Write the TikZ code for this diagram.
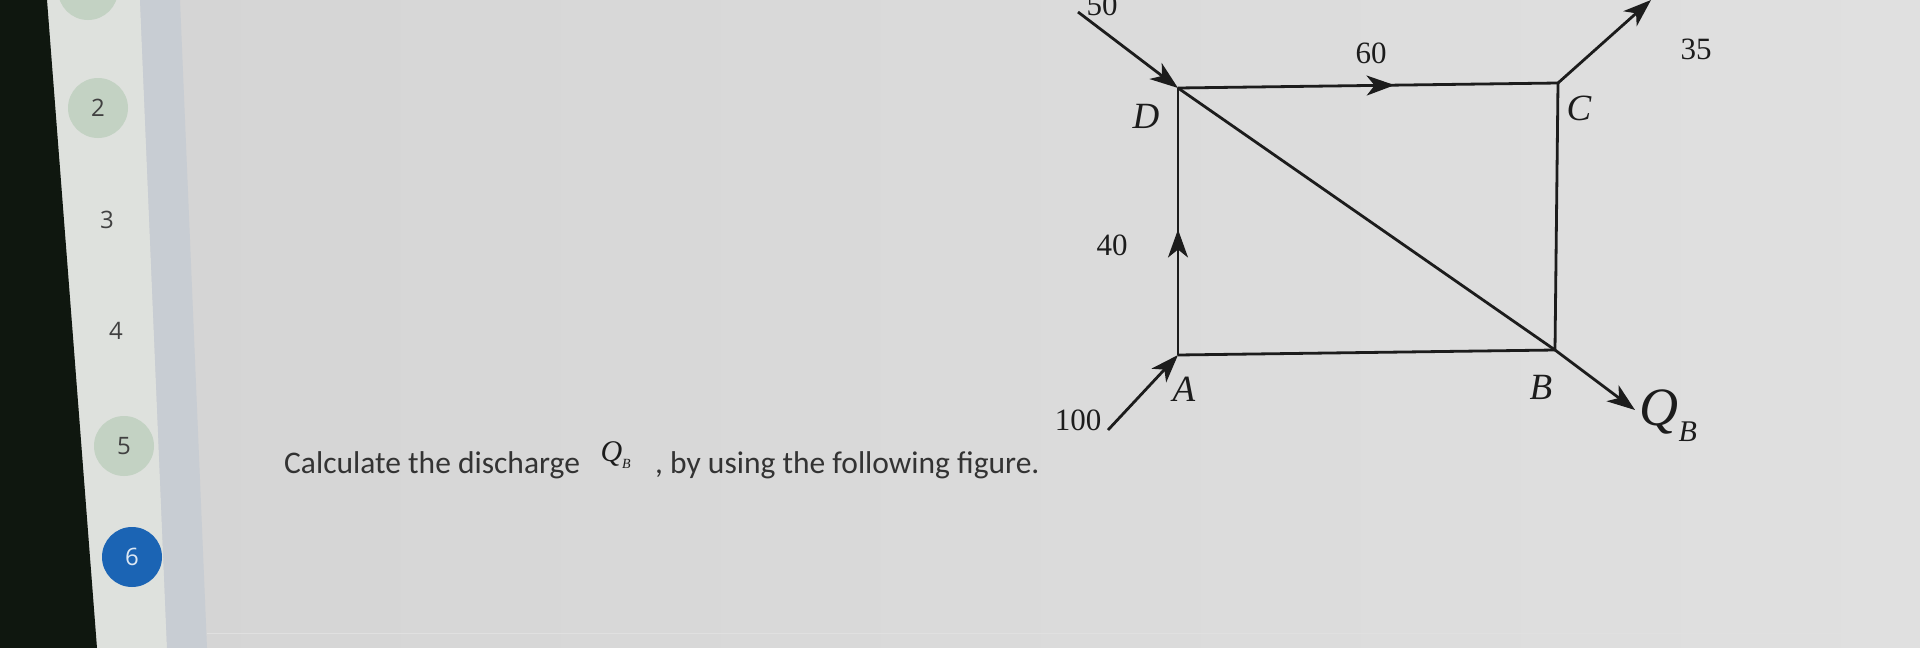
\documentclass[tikz,border=0pt]{standalone}
\usepackage{fontspec}
\setmainfont{Liberation Serif}
\newfontfamily\uifont{Carlito}
\newfontfamily\navfont{Open Sans}
\usetikzlibrary{arrows.meta,decorations.markings}
\definecolor{screen}{HTML}{D4D4D4}
\definecolor{screenlight}{HTML}{E0E0E0}
\definecolor{bezel}{HTML}{0F170F}
\definecolor{sidebar}{HTML}{DEE1DD}
\definecolor{band}{HTML}{C8CDD3}
\definecolor{navgreen}{HTML}{C3D2C3}
\definecolor{navblue}{HTML}{1B64B4}
\definecolor{ink}{HTML}{1C1C1C}
\tikzset{
  flow/.style={line width=2.8pt, draw=ink},
  tip/.style={-{Stealth[length=28pt,width=20pt,inset=8pt]}},
  midtip/.style={postaction={decorate},
    decoration={markings, mark=at position #1 with {\arrow{Stealth[length=28pt,width=20pt,inset=8pt]}}}},
  qty/.style={text=ink, font=\fontsize{31}{31}\selectfont},
  corner/.style={text=ink, font=\fontsize{37}{37}\selectfont\itshape},
  navnum/.style={circle, minimum size=60pt, inner sep=0pt, text=black!75,
    font=\navfont\fontsize{24}{24}\selectfont},
  prompt/.style={text=black!80, inner sep=0pt, font=\uifont\fontsize{31.5}{31.5}\selectfont},
}
\begin{document}
\begin{tikzpicture}[x=1pt,y=-1pt]
  \useasboundingbox (0,0) rectangle (1920,648);
  % screen background
  \shade[left color=screen, right color=screenlight] (0,0) rectangle (1920,648);
  \fill[sidebar] (47,0) -- (140,0) -- (167,648) -- (97,648) -- cycle;
  \fill[band] (140,0) -- (180,0) -- (207,648) -- (167,648) -- cycle;
  \fill[bezel] (0,0) -- (47,0) -- (97,648) -- (0,648) -- cycle;
  \draw[black!12, line width=1pt] (207,633) -- (1920,633);

  % question numbers
  \node[navnum, fill=navgreen] (n1) at (88,-10) {};
  \node[navnum, fill=navgreen] (n2) at (98,108) {2};
  \node[navnum] (n3) at (107,220) {3};
  \node[navnum] (n4) at (116,331) {4};
  \node[navnum, fill=navgreen] (n5) at (124,446) {5};
  \node[navnum, fill=navblue, text=white!85!navblue] (n6) at (132,557) {6};

  % question text
  \node[prompt, anchor=base west] (ask) at (284,473) {Calculate the discharge};
  \node[text=ink, anchor=base west, font=\fontsize{30}{30}\selectfont\itshape] (askq) at (597,461)
    {Q\raisebox{-0.25em}{\fontsize{14}{14}\selectfont B}};
  \node[prompt, anchor=base west] (ask2) at (655,473) {, by using the following figure.};

  % junctions
  \coordinate (D) at (1178,88);
  \coordinate (C) at (1558,83);
  \coordinate (B) at (1555,350);
  \coordinate (A) at (1178,355);
  \coordinate (in50) at (1078,12);
  \coordinate (in100) at (1108,430);
  \coordinate (out35) at (1651,0);
  \coordinate (outQ) at (1635,410);

  % pipes
  \draw[flow] (A) -- (B) -- (C);
  \draw[flow] (D) -- (B);
  \draw[flow, midtip=0.57] (D) -- (C);
  \draw[flow, midtip=0.47] (A) -- (D);
  \draw[flow, tip] (in50) -- (D);
  \draw[flow, tip] (in100) -- (A);
  \draw[flow, tip] (C) -- (out35);
  \draw[flow, tip] (B) -- (outQ);

  % labels
  \node[corner] (lD) at (1146,116) {D};
  \node[corner] (lC) at (1579,108) {C};
  \node[corner] (lA) at (1184,389) {A};
  \node[corner] (lB) at (1541,387) {B};
  \node[qty] (q50) at (1102,5) {50};
  \node[qty] (q60) at (1371,53) {60};
  \node[qty] (q35) at (1696,49) {35};
  \node[qty] (q40) at (1112,245) {40};
  \node[qty] (q100) at (1078,420) {100};
  \node[text=ink, anchor=west, font=\fontsize{54}{54}\selectfont\itshape] (lQ) at (1636,416)
    {Q\raisebox{-0.3em}{\fontsize{30}{30}\selectfont B}};
\end{tikzpicture}
\end{document}
